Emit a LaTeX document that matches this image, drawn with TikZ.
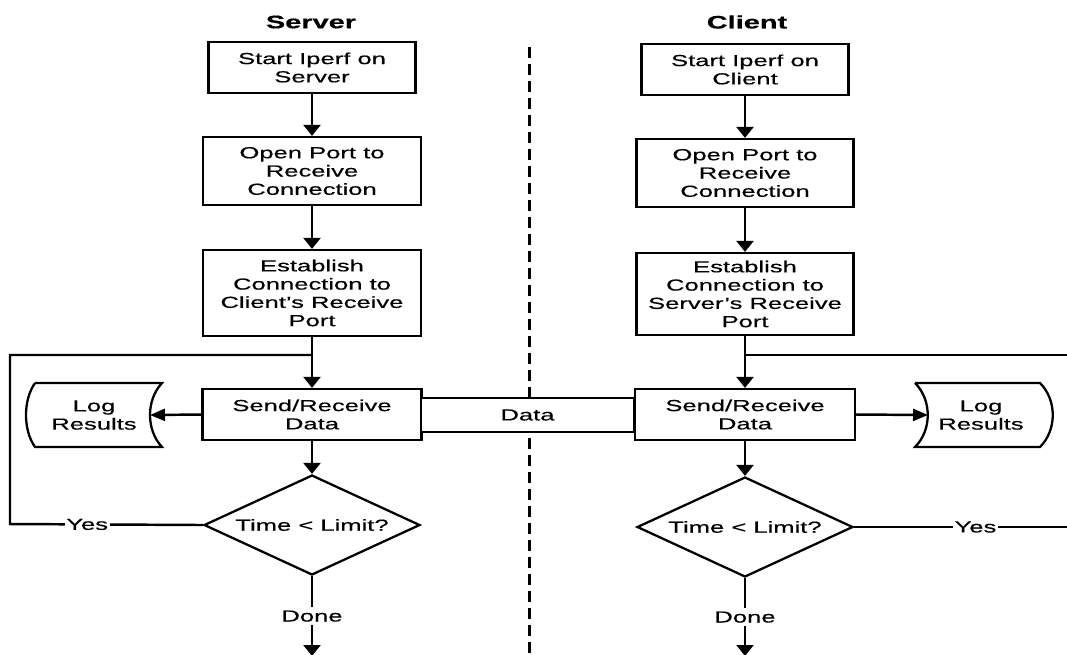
\documentclass[tikz,border=0pt]{standalone}
\usepackage{fontspec}
\setmainfont{Liberation Sans}[FakeStretch=1.6,FakeBold=0.4]
\usetikzlibrary{shapes.geometric,arrows.meta}
\begin{document}
\begin{tikzpicture}[x=0.02cm,y=-0.02cm,
  every node/.style={font=\fontsize{9.1}{10.4}\selectfont, align=center, inner sep=0pt},
  box/.style={draw, line width=1.3pt},
  dec/.style={draw, diamond, line width=1.3pt, aspect=2.16, minimum width=4.32cm, minimum height=2cm},
  flow/.style={line width=1.4pt},
  varr/.style={flow, -{Triangle[width=0.34cm,length=0.22cm]}},
  harr/.style={flow, -{Triangle[width=0.24cm,length=0.3cm]}},
  lbl/.style={fill=white, inner xsep=1pt, inner ysep=2pt},
  ttl/.style={font=\fontsize{10.3}{12}\selectfont\bfseries},
  logshape/.style={line width=1.3pt}
]
\useasboundingbox (0,0) rectangle (1067,654);

% titles
\node[ttl] (tS) at (311,22) {Server};
\node[ttl] (tC) at (747,22) {Client};

% separator
\draw[line width=1.7pt, dash pattern=on 0.22cm off 0.12cm] (529,47) -- (529,654);

% server column
\node[box, minimum width=4.14cm, minimum height=1.02cm] (s1) at (312,67.5) {Start Iperf on\\Server};
\node[box, minimum width=4.36cm, minimum height=1.36cm] (s2) at (312,171) {Open Port to\\Receive\\Connection};
\node[box, minimum width=4.36cm, minimum height=1.72cm] (s3) at (312,293) {Establish\\Connection to\\Client's Receive\\Port};
\node[box, minimum width=4.38cm, minimum height=1.02cm] (s4) at (312,414.5) {Send/Receive\\Data};
\node[dec] (sd) at (312,525) {Time < Limit?};

% client column
\node[box, minimum width=4.14cm, minimum height=1.02cm] (c1) at (745,69.5) {Start Iperf on\\Client};
\node[box, minimum width=4.34cm, minimum height=1.36cm] (c2) at (745,173) {Open Port to\\Receive\\Connection};
\node[box, minimum width=4.34cm, minimum height=1.64cm] (c3) at (745,294) {Establish\\Connection to\\Server's Receive\\Port};
\node[box, minimum width=4.4cm, minimum height=1.02cm] (c4) at (745,414.5) {Send/Receive\\Data};
\node[dec] (cd) at (745,527) {Time < Limit?};

% log results shapes
\draw[logshape] (35,383) -- (162,383) .. controls (146,400) and (146,430) .. (162,447)
  -- (35,447) .. controls (23,430) and (23,400) .. (35,383);
\node (slog) at (94,415) {Log\\Results};
\coordinate (slogin) at (150,415);

\draw[logshape] (915,383) -- (1040,383) .. controls (1057,400) and (1057,430) .. (1040,447)
  -- (915,447) .. controls (932,430) and (932,400) .. (915,383);
\node (clog) at (981,415) {Log\\Results};
\coordinate (clogin) at (928,415);

% data link
\node[box, fill=white, minimum width=4.26cm, minimum height=0.68cm] (data) at (527.5,415) {Data};

% server flow
\draw[varr] (s1) -- (s2);
\draw[varr] (s2) -- (s3);
\draw[varr] (s3) -- (s4);
\draw[varr] (s4) -- (sd);
\draw[harr] (s4.west) -- (slogin);
\coordinate (sj) at (312,355);
\coordinate (sl) at (10,355);
\coordinate (sb) at (10,524);
\draw[flow] (sd.west) -- node[lbl,pos=0.6]{Yes} (sb) -- (sl) -- (sj);
\coordinate (send) at (312,656);
\draw[varr] (sd) -- node[lbl]{Done} (send);

% client flow
\draw[varr] (c1) -- (c2);
\draw[varr] (c2) -- (c3);
\draw[varr] (c3) -- (c4);
\draw[varr] (c4) -- (cd);
\draw[harr] (c4.east) -- (clogin);
\coordinate (cj) at (745,355);
\coordinate (cr) at (1067,355);
\coordinate (cb) at (1067,527);
\draw[flow] (cj) -- (cr);
\draw[flow] (cd.east) -- node[lbl,pos=0.57]{Yes} (cb);
\coordinate (cend) at (745,656);
\draw[varr] (cd) -- node[lbl]{Done} (cend);
\end{tikzpicture}
\end{document}
